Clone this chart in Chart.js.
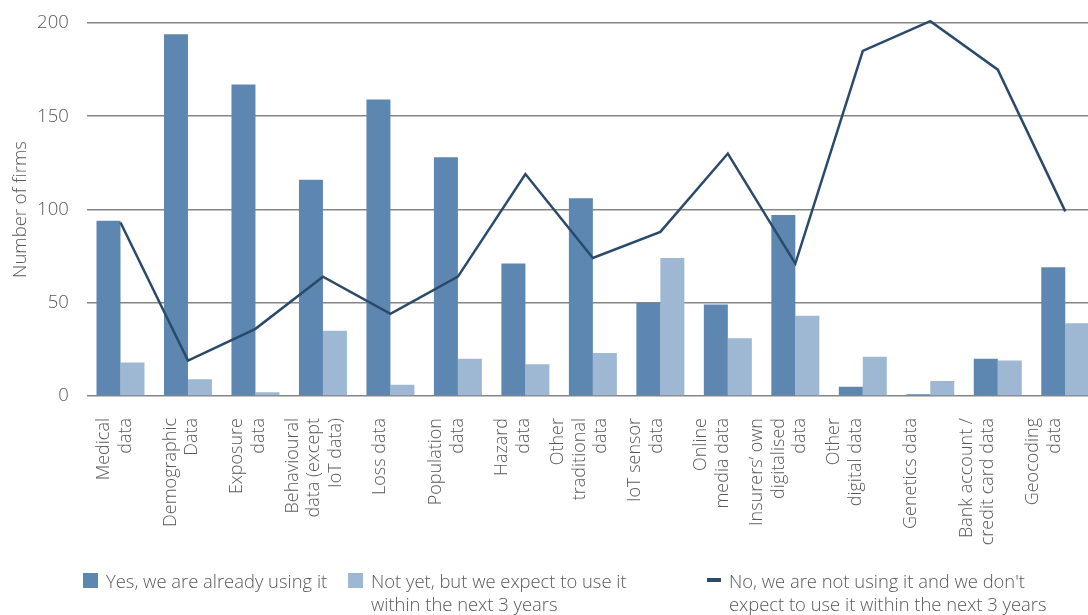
<!DOCTYPE html>
<html>
<head>
<meta charset="utf-8">
<script src="https://cdn.jsdelivr.net/npm/chart.js@4.4.1/dist/chart.umd.min.js"></script>
<style>
  html, body { margin: 0; padding: 0; background: #fff; overflow: hidden; }
  #wrap { position: relative; width: 1088px; height: 615px; overflow: hidden; }
  #legend { position: absolute; left: 0; top: 0; width: 1088px; height: 615px; pointer-events: none;
    font-family: "Open Sans", sans-serif; font-weight: 300; font-size: 18.4px; color: #595959; line-height: 23px; }
  .sw { position: absolute; }
  .txt { position: absolute; white-space: nowrap; }
</style>
</head>
<body>
<div id="wrap">
  <!-- the plot runs a little past the right edge in the source, so the canvas is wider and cropped -->
  <canvas id="chart" width="1100" height="615"></canvas>
  <div id="legend"></div>
</div>
<script>
var categories = [
    ["Medical", "data"],
    ["Demographic", "Data"],
    ["Exposure", "data"],
    ["Behavioural", "data (except", "IoT data)"],
    ["Loss data"],
    ["Population", "data"],
    ["Hazard", "data"],
    ["Other", "traditional", "data"],
    ["IoT sensor", "data"],
    ["Online", "media data"],
    ["Insurers\u2019 own", "digitalised", "data"],
    ["Other", "digital data"],
    ["Genetics data"],
    ["Bank account /", "credit card data"],
    ["Geocoding", "data"]
];

var usingNow = [94, 194, 167, 116, 159, 128, 71, 106, 50, 49, 97, 5, 1, 20, 69];
var expectToUse = [18, 9, 2, 35, 6, 20, 17, 23, 74, 31, 43, 21, 8, 19, 39];
var notUsing = [93, 19, 36, 64, 44, 64, 119, 74, 88, 130, 71, 185, 201, 175, 99];

var yTicks = [0, 50, 100, 150, 200];

var seriesNames = [
    ["Yes, we are already using it"],
    ["Not yet, but we expect to use it", "within the next 3 years"],
    ["No, we are not using it and we don't", "expect to use it within the next 3 years"]
];

var darkBlue = '#5d87b1';
var lightBlue = '#9eb8d4';
var navy = '#2b4a6a';
var textGrey = '#595959';

Chart.defaults.font.family = '"Open Sans", sans-serif';
Chart.defaults.font.weight = 300;
Chart.defaults.color = textGrey;

// vertical, multi-line category labels (centred block, right aligned towards the axis)
var verticalLabels = {
    id: 'verticalLabels',
    afterDraw: function(chart) {
        let scale = chart.scales.x;
        let ctx = chart.ctx;
        let lh = 21.5;
        ctx.save();
        ctx.font = '300 18px "Open Sans", sans-serif';
        ctx.fillStyle = textGrey;
        ctx.textAlign = 'right';
        ctx.textBaseline = 'middle';
        chart.data.labels.forEach(function(label, i) {
            let lines = Array.isArray(label) ? label : [label];
            // labels in the source sit slightly tighter than the bars
            let x = scale.getPixelForValue(i) - 5.5 - i * 1.14;
            let y = scale.top + 22;
            ctx.save();
            ctx.translate(x, y);
            ctx.rotate(-Math.PI / 2);
            lines.forEach(function(line, j) {
                ctx.fillText(line, 0, (j - (lines.length - 1) / 2) * lh);
            });
            ctx.restore();
        });
        ctx.restore();
    }
};

var ctx = document.getElementById('chart');

var chart = new Chart(ctx, {
    type: 'bar',
    data: {
        labels: categories,
        datasets: [
            { type: 'line', label: seriesNames[2].join(' '), data: notUsing, borderColor: navy,
                backgroundColor: navy, borderWidth: 2.5, pointRadius: 0, tension: 0, clip: false, order: 0 },
            { label: seriesNames[0].join(' '), data: usingNow, backgroundColor: darkBlue, order: 1 },
            { label: seriesNames[1].join(' '), data: expectToUse, backgroundColor: lightBlue, order: 1 }
        ]
    },
    plugins: [verticalLabels],
    options: {
        responsive: false,
        animation: false,
        datasets: {
            bar: { categoryPercentage: 0.711, barPercentage: 1.0 }
        },
        layout: { padding: { top: 23, right: 1, left: 10, bottom: 0 } },
        plugins: {
            legend: { display: false },
            tooltip: { enabled: false }
        },
        scales: {
            x: {
                grid: { display: false },
                border: { display: false },
                ticks: { display: false },
                afterFit: function(scale) {
                    scale.height = 219;
                    scale.paddingLeft = 0;
                    scale.paddingRight = 0;
                }
            },
            y: {
                min: 0,
                max: 200,
                afterBuildTicks: function(scale) {
                    scale.ticks = yTicks.map(function(v) { return { value: v }; });
                },
                grid: { color: '#858585', lineWidth: 1.6, drawTicks: false },
                border: { display: false },
                ticks: { padding: 18, color: textGrey, font: { size: 18.5, weight: 300 } },
                title: {
                    display: true,
                    text: 'Number of firms',
                    color: textGrey,
                    padding: { top: 0, bottom: 4 },
                    font: { size: 18.5, weight: 300 }
                },
                afterFit: function(scale) {
                    scale.width = 76.75;
                    scale.paddingTop = 0;
                    scale.paddingBottom = 0;
                }
            }
        }
    }
});

// html legend under the chart
var legendPos = [
    { sw: 83, txt: 106, kind: 'box', color: darkBlue, names: seriesNames[0] },
    { sw: 348, txt: 371, kind: 'box', color: lightBlue, names: seriesNames[1] },
    { sw: 707, txt: 729, kind: 'line', color: navy, names: seriesNames[2] }
];
var legend = document.getElementById('legend');
legendPos.forEach(function(item) {
    let sw = document.createElement('div');
    sw.className = 'sw';
    sw.style.left = item.sw + 'px';
    sw.style.background = item.color;
    if (item.kind == 'box') {
        sw.style.top = '573px'; sw.style.width = '15px'; sw.style.height = '15px';
    } else {
        sw.style.top = '578px'; sw.style.width = '14px'; sw.style.height = '4px';
    }
    legend.appendChild(sw);
    let txt = document.createElement('div');
    txt.className = 'txt';
    txt.style.left = item.txt + 'px';
    txt.style.top = '569px';
    txt.innerHTML = item.names.join('<br>');
    legend.appendChild(txt);
});
</script>
</body>
</html>
